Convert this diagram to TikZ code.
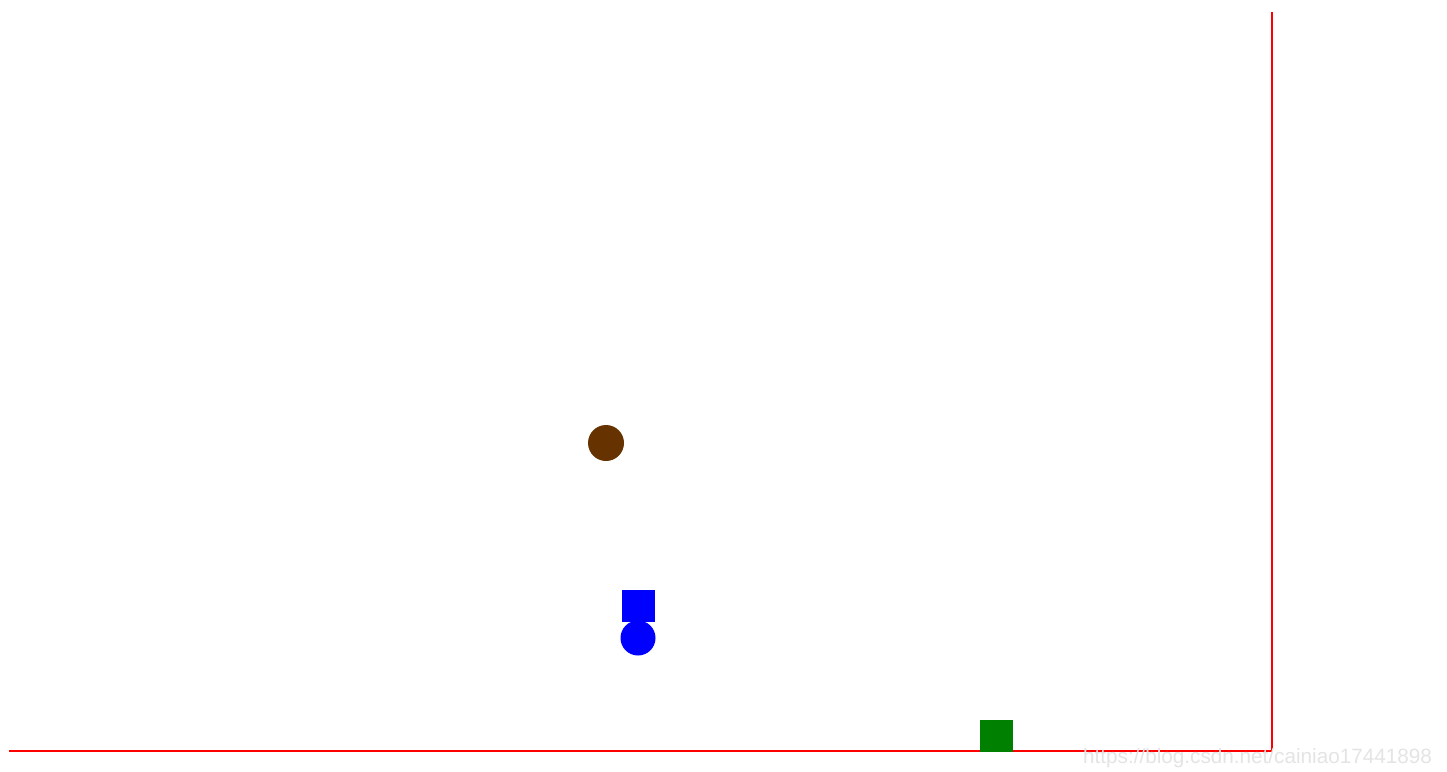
\documentclass[tikz,border=0pt]{standalone}
\usepackage{fontspec}
\setmainfont{Liberation Sans}
\definecolor{axisred}{RGB}{255,0,0}
\definecolor{ballbrown}{RGB}{102,51,0}
\definecolor{boxgreen}{RGB}{0,128,0}
\definecolor{wmgray}{RGB}{228,228,228}
\begin{document}
\begin{tikzpicture}[x=1pt,y=-1pt,
  axisline/.style={draw=axisred,line width=2pt},
  blob/.style={line width=0pt},
  watermark/.style={text=wmgray,font=\fontsize{20.7}{24}\selectfont,inner sep=0pt,anchor=base west}]
\useasboundingbox (0,0) rectangle (1447,771);
\fill[white] (0,0) rectangle (1447,771);
% axes
\coordinate (top) at (1272,12);
\coordinate (corner) at (1272,751);
\coordinate (left) at (9,751);
\draw[axisline] (top) -- (corner) -- (left);
% shapes
\fill[ballbrown] (606,443) circle (18);
\fill[blue] (622,590) rectangle (655,622);
\fill[blue] (638,638) circle (17.5);
\fill[boxgreen] (980,720) rectangle (1013,752);
% watermark
\node[watermark] (wm) at (1083,763) {https://blog.csdn.net/cainiao17441898};
\end{tikzpicture}
\end{document}
